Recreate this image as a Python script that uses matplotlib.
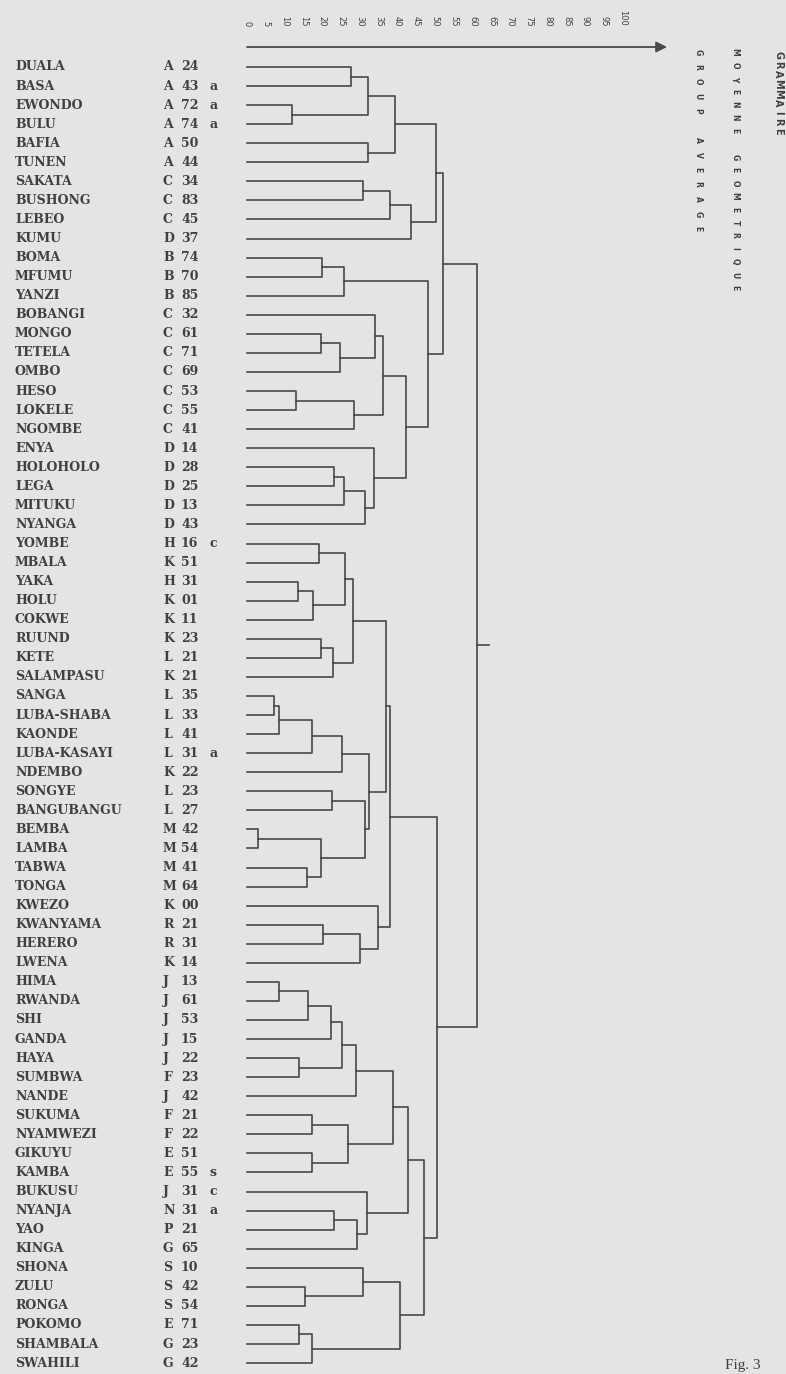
import matplotlib
matplotlib.use("Agg")
import matplotlib.pyplot as plt

# leaves, top to bottom, with Guthrie codes
names = ["DUALA", "BASA", "EWONDO", "BULU", "BAFIA", "TUNEN", "SAKATA", "BUSHONG",
         "LEBEO", "KUMU", "BOMA", "MFUMU", "YANZI", "BOBANGI", "MONGO", "TETELA",
         "OMBO", "HESO", "LOKELE", "NGOMBE", "ENYA", "HOLOHOLO", "LEGA", "MITUKU",
         "NYANGA", "YOMBE", "MBALA", "YAKA", "HOLU", "COKWE", "RUUND", "KETE",
         "SALAMPASU", "SANGA", "LUBA-SHABA", "KAONDE", "LUBA-KASAYI", "NDEMBO",
         "SONGYE", "BANGUBANGU", "BEMBA", "LAMBA", "TABWA", "TONGA", "KWEZO",
         "KWANYAMA", "HERERO", "LWENA", "HIMA", "RWANDA", "SHI", "GANDA", "HAYA",
         "SUMBWA", "NANDE", "SUKUMA", "NYAMWEZI", "GIKUYU", "KAMBA", "BUKUSU",
         "NYANJA", "YAO", "KINGA", "SHONA", "ZULU", "RONGA", "POKOMO", "SHAMBALA",
         "SWAHILI"]
codes = ["A 24", "A 43 a", "A 72 a", "A 74 a", "A 50", "A 44", "C 34", "C 83",
         "C 45", "D 37", "B 74", "B 70", "B 85", "C 32", "C 61", "C 71",
         "C 69", "C 53", "C 55", "C 41", "D 14", "D 28", "D 25", "D 13",
         "D 43", "H 16 c", "K 51", "H 31", "K 01", "K 11", "K 23", "L 21",
         "K 21", "L 35", "L 33", "L 41", "L 31 a", "K 22",
         "L 23", "L 27", "M 42", "M 54", "M 41", "M 64", "K 00",
         "R 21", "R 31", "K 14", "J 13", "J 61", "J 53", "J 15", "J 22",
         "F 23", "J 42", "F 21", "F 22", "E 51", "E 55 s", "J 31 c",
         "N 31 a", "P 21", "G 65", "S 10", "S 42", "S 54", "E 71", "G 23",
         "G 42"]

# merges: (left, right, distance); str = leaf, int = earlier merge
merges = [
    ("DUALA", "BASA", 27.7), ("EWONDO", "BULU", 12.0), (0, 1, 32.3),
    ("BAFIA", "TUNEN", 32.3), (2, 3, 39.4),
    ("SAKATA", "BUSHONG", 30.8), (5, "LEBEO", 38.0), (6, "KUMU", 43.6),
    (4, 7, 50.3),
    ("BOMA", "MFUMU", 20.0), (9, "YANZI", 25.8),
    ("MONGO", "TETELA", 19.7), (11, "OMBO", 24.7), ("BOBANGI", 12, 34.0),
    ("HESO", "LOKELE", 13.0), (14, "NGOMBE", 28.5), (13, 15, 36.2),
    ("HOLOHOLO", "LEGA", 23.1), (17, "MITUKU", 25.8), (18, "NYANGA", 31.4),
    ("ENYA", 19, 33.8), (16, 20, 42.3), (10, 21, 48.1),
    (8, 22, 52.1),
    ("YOMBE", "MBALA", 19.2), ("YAKA", "HOLU", 13.6), (25, "COKWE", 17.5),
    (24, 26, 26.0), ("RUUND", "KETE", 19.7), (28, "SALAMPASU", 22.9),
    (27, 29, 28.2),
    ("SANGA", "LUBA-SHABA", 7.2), (31, "KAONDE", 8.6), (32, "LUBA-KASAYI", 17.2),
    (33, "NDEMBO", 25.2), ("SONGYE", "BANGUBANGU", 22.5),
    ("BEMBA", "LAMBA", 3.0), ("TABWA", "TONGA", 16.0), (36, 37, 19.7),
    (35, 38, 31.4), (34, 39, 32.4), (30, 40, 37.0),
    ("KWANYAMA", "HERERO", 20.2), (42, "LWENA", 30.0), ("KWEZO", 43, 34.8),
    (41, 44, 38.0),
    ("HIMA", "RWANDA", 8.6), (46, "SHI", 16.3), (47, "GANDA", 22.3),
    ("HAYA", "SUMBWA", 13.9), (48, 49, 25.2), (50, "NANDE", 29.0),
    ("SUKUMA", "NYAMWEZI", 17.3), ("GIKUYU", "KAMBA", 17.3), (52, 53, 26.9),
    (51, 54, 38.8),
    ("NYANJA", "YAO", 23.1), (56, "KINGA", 29.2), ("BUKUSU", 57, 31.9),
    (55, 58, 42.8),
    ("ZULU", "RONGA", 15.4), ("SHONA", 60, 30.9), ("POKOMO", "SHAMBALA", 13.8),
    (62, "SWAHILI", 17.2), (61, 63, 40.7),
    (59, 64, 47.1), (45, 65, 50.5),
    (23, 66, 61.2),
]
scale_ticks = list(range(0, 101, 5))

BG = "#e4e4e2"
INK = "#404040"
LINE = "#474747"

W, H = 786, 1374
X0, UNIT = 247, 3.76      # px of distance 0, px per distance unit
Y0, ROW = 67, 19.06       # px of first leaf, px per leaf
TOP = 47                  # px of the arrow line


def hx(px):
    return (px - X0) / UNIT


fig = plt.figure(figsize=(W / 100, H / 100), dpi=100, facecolor=BG)
ax = fig.add_axes([0, 0, 1, 1 - TOP / H])
ax.set_facecolor(BG)
ax.set_xlim(hx(0), hx(W))
ytop = (TOP - Y0) / ROW
ax.set_ylim((H - Y0) / ROW, ytop)
for s in ax.spines.values():
    s.set_visible(False)
ax.yaxis.set_visible(False)
ax.xaxis.tick_top()
ax.set_xticks(scale_ticks)
ax.set_xticklabels([str(t) for t in scale_ticks], rotation=-90, fontsize=6,
                   color=INK, family="DejaVu Sans")
ax.tick_params(axis="x", length=0, pad=15)

ax.annotate("", xy=(hx(667), ytop), xytext=(0, ytop), annotation_clip=False,
            arrowprops=dict(arrowstyle="-|>", lw=1.3, color=LINE,
                            mutation_scale=16, shrinkA=0, shrinkB=0))

# dendrogram
pos = {n: i for i, n in enumerate(names)}
node_y, node_h = [], []


def get(ref):
    if isinstance(ref, str):
        return pos[ref], 0.0
    return node_y[ref], node_h[ref]


for a, b, h in merges:
    ya, ha = get(a)
    yb, hb = get(b)
    ax.plot([ha, h, h, hb], [ya, ya, yb, yb], color=LINE, lw=1.2)
    node_y.append((ya + yb) / 2)
    node_h.append(h)
ax.plot([node_h[-1], node_h[-1] + 3.2], [node_y[-1]] * 2, color=LINE, lw=1.2)

# labels
lab = dict(family="DejaVu Serif", fontsize=9, weight="bold", color=INK,
           va="center")
for i, (n, c) in enumerate(zip(names, codes)):
    ax.text(hx(15), i, n, **lab)
    parts = c.split()
    ax.text(hx(163), i, parts[0], **lab)
    ax.text(hx(181), i, parts[1], **lab)
    if len(parts) > 2:
        ax.text(hx(210), i, parts[2], **lab)


def spaced(x, y, text, step, **kw):
    for k, ch in enumerate(text):
        if ch != " ":
            fig.text(x / W, 1 - (y + k * step) / H, ch, rotation=-90,
                     ha="center", va="center", color=INK, **kw)


spaced(778, 55, "GRAMMAIRE", 9.6, fontsize=7, weight="bold")
spaced(735, 52, "MOYENNE GEOMETRIQUE", 13.1, fontsize=5.5, weight="bold")
spaced(698, 52, "GROUP AVERAGE", 14.7, fontsize=5.5, weight="bold")

fig.text(725 / W, 1 - 1366 / H, "Fig. 3", family="Liberation Serif",
         fontsize=11, color=INK, va="center")

fig.savefig("out.png", dpi=100, facecolor=BG)
